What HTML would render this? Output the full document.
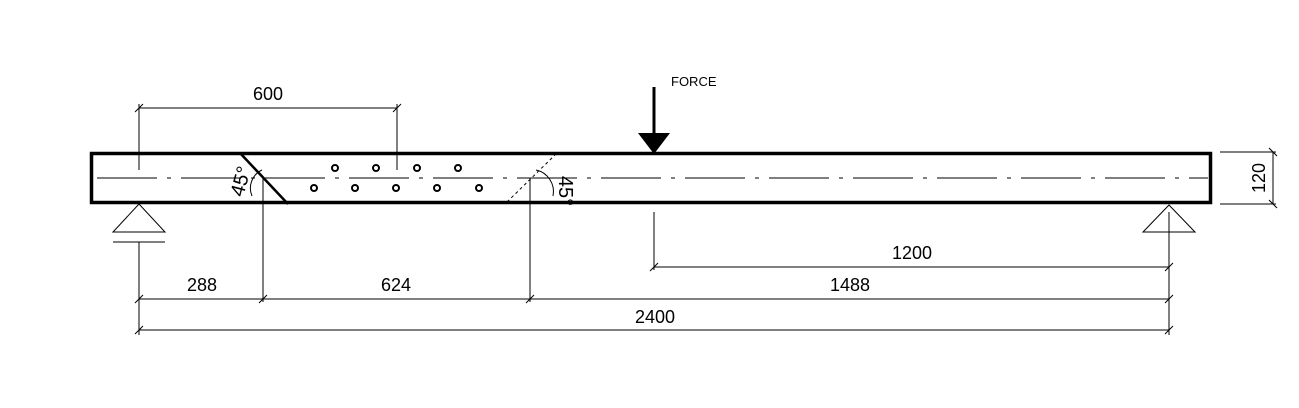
<!DOCTYPE html>
<html><head><style>body{margin:0;background:#fff}svg{display:block}text{font-family:"Liberation Sans",sans-serif;fill:#000}</style></head>
<body>
<svg width="1299" height="408" viewBox="0 0 1299 408">
<g stroke="#000" stroke-width="1" fill="none">
<line x1="97" y1="178" x2="1208" y2="178" stroke-dasharray="60,10,4,10"/>
<rect x="91.5" y="153.5" width="1119" height="49" stroke-width="3.5"/>
<line x1="240" y1="153" x2="288" y2="204" stroke-width="2.5"/>
<line x1="507" y1="202" x2="556" y2="154" stroke-dasharray="3,3"/>
<path d="M252 196 A 20 20 0 0 1 262 170"/>
<path d="M536 170 A 22 22 0 0 1 553 196"/>
<g stroke-width="2">
<circle cx="335" cy="168" r="3"/><circle cx="376" cy="168" r="3"/><circle cx="417" cy="168" r="3"/><circle cx="458" cy="168" r="3"/>
<circle cx="314" cy="188" r="3"/><circle cx="355" cy="188" r="3"/><circle cx="396" cy="188" r="3"/><circle cx="437" cy="188" r="3"/><circle cx="479" cy="188" r="3"/>
</g>
<line x1="139" y1="108" x2="397" y2="108"/>
<line x1="139" y1="104" x2="139" y2="170"/>
<line x1="397" y1="104" x2="397" y2="170"/>
<line x1="135" y1="112" x2="143" y2="104"/><line x1="393" y1="112" x2="401" y2="104"/>
<path d="M139 204 L113 232 L165 232 Z"/>
<line x1="113" y1="242" x2="165" y2="242"/>
<path d="M1169 205 L1143 232 L1195 232 Z"/>
<line x1="139" y1="242" x2="139" y2="335"/>
<line x1="263" y1="178" x2="263" y2="302"/>
<line x1="530" y1="178" x2="530" y2="302"/>
<line x1="654" y1="212" x2="654" y2="270"/>
<line x1="1169" y1="212" x2="1169" y2="335"/>
<line x1="526" y1="178" x2="534" y2="178"/>
<line x1="654" y1="267" x2="1169" y2="267"/>
<line x1="139" y1="299" x2="1169" y2="299"/>
<line x1="139" y1="330" x2="1169" y2="330"/>
<g>
<line x1="650" y1="271" x2="658" y2="263"/><line x1="1165" y1="271" x2="1173" y2="263"/>
<line x1="135" y1="303" x2="143" y2="295"/><line x1="259" y1="303" x2="267" y2="295"/><line x1="526" y1="303" x2="534" y2="295"/><line x1="1165" y1="303" x2="1173" y2="295"/>
<line x1="135" y1="334" x2="143" y2="326"/><line x1="1165" y1="334" x2="1173" y2="326"/>
</g>
<line x1="1220" y1="152" x2="1276" y2="152"/>
<line x1="1220" y1="204" x2="1276" y2="204"/>
<line x1="1273" y1="152" x2="1273" y2="204"/>
<line x1="1269" y1="148" x2="1277" y2="156"/><line x1="1269" y1="200" x2="1277" y2="208"/>
<line x1="654" y1="87" x2="654" y2="136" stroke-width="3"/>
</g>
<path d="M638 133 L670 133 L654 154 Z" fill="#000"/>
<g font-size="18">
<text x="268" y="100" text-anchor="middle">600</text>
<text x="912" y="259" text-anchor="middle">1200</text>
<text x="202" y="291" text-anchor="middle">288</text>
<text x="396" y="291" text-anchor="middle">624</text>
<text x="850" y="291" text-anchor="middle">1488</text>
<text x="655" y="323" text-anchor="middle">2400</text>
<text transform="translate(1265,178) rotate(-90)" text-anchor="middle">120</text>
<text transform="translate(247,183) rotate(-75)" text-anchor="middle" font-size="20">45°</text>
<text transform="translate(559,191) rotate(90)" text-anchor="middle" font-size="20">45°</text>
</g>
<text x="671" y="86" font-size="13">FORCE</text>
</svg>
</body></html>
